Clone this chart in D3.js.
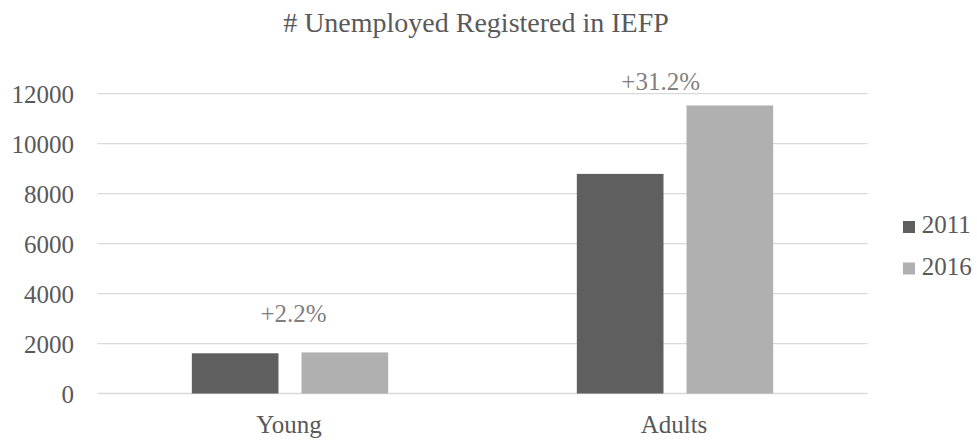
<!DOCTYPE html>
<html><head><meta charset="utf-8">
<script src="https://cdn.jsdelivr.net/npm/d3@7"></script>
<style>body{margin:0;background:#fff}svg{display:block}
text{font-family:"Liberation Serif","DejaVu Serif",serif}</style>
</head><body>
<svg id="c" width="977" height="441"></svg>
<script>
const categories = ["Young", "Adults"];
const seriesNames = ["2011", "2016"];
const values2011 = [1610, 8790];
const values2016 = [1645, 11530];
const changeLabels = ["+2.2%", "+31.2%"];
const yTicks = [0, 2000, 4000, 6000, 8000, 10000, 12000];
const colors = ["#5f5f5f", "#b0b0b0"];

(function(){
const svg = d3.select("#c");
const pL = 97.5, pR = 867.5, pT = 93.7, pB = 393.5;

const y = d3.scaleLinear().domain([0, 12000]).range([pB, pT]);
const x0 = d3.scaleBand().domain(categories).range([pL, pR]).paddingInner(0).paddingOuter(0);
const x1 = d3.scaleBand().domain(seriesNames).range([0, x0.bandwidth()]).paddingInner(0.21).paddingOuter(0.86);

svg.append("g").selectAll("line").data(yTicks).join("line")
  .attr("x1", pL).attr("x2", pR)
  .attr("y1", d => y(d)).attr("y2", d => y(d))
  .attr("stroke", "#d9d9d9").attr("stroke-width", 1.3);

const yAxis = d3.axisLeft(y).tickValues(yTicks).tickSize(0).tickPadding(0).tickFormat(d3.format("d"));
const ga = svg.append("g").attr("transform", `translate(74,0)`).call(yAxis);
ga.select(".domain").remove();
ga.attr("font-family", null).attr("font-size", null);
ga.selectAll("text").attr("font-size", 25).attr("fill", "#595959").attr("dy", "0.34em");

const data = categories.map((c, i) => ({cat: c, vals: [values2011[i], values2016[i]]}));
const g = svg.append("g");
data.forEach(d => {
  g.selectAll(null).data(d.vals).join("rect")
    .attr("x", (v, j) => x0(d.cat) + x1(seriesNames[j]))
    .attr("width", x1.bandwidth())
    .attr("y", v => y(v))
    .attr("height", v => pB - y(v))
    .attr("fill", (v, j) => colors[j]);
});

svg.append("g").selectAll("text").data(categories).join("text")
  .attr("x", d => x0(d) + x0.bandwidth() / 2 - 1).attr("y", 433)
  .attr("text-anchor", "middle").attr("font-size", 25).attr("fill", "#595959")
  .text(d => d);

svg.append("g").selectAll("text").data(categories).join("text")
  .attr("x", (d, i) => x0(d) + x0.bandwidth() / 2 + (i === 0 ? 3.5 : -14.3))
  .attr("y", (d, i) => i === 0 ? 321.7 : 90)
  .attr("text-anchor", "middle").attr("font-size", 25).attr("fill", "#7f7f7f")
  .text((d, i) => changeLabels[i]);

svg.append("text").attr("x", 476).attr("y", 32).attr("text-anchor", "middle")
  .attr("font-size", 28).attr("fill", "#595959")
  .text("# Unemployed Registered in IEFP");

const lg = svg.append("g").selectAll("g").data(seriesNames).join("g")
  .attr("transform", (d, i) => `translate(903,${221 + i * 41.5})`);
lg.append("rect").attr("width", 12).attr("height", 12).attr("fill", (d, i) => colors[i]);
lg.append("text").attr("x", 18.7).attr("y", 12.3).attr("font-size", 25).attr("fill", "#595959").text(d => d);
})();
</script>
</body></html>
